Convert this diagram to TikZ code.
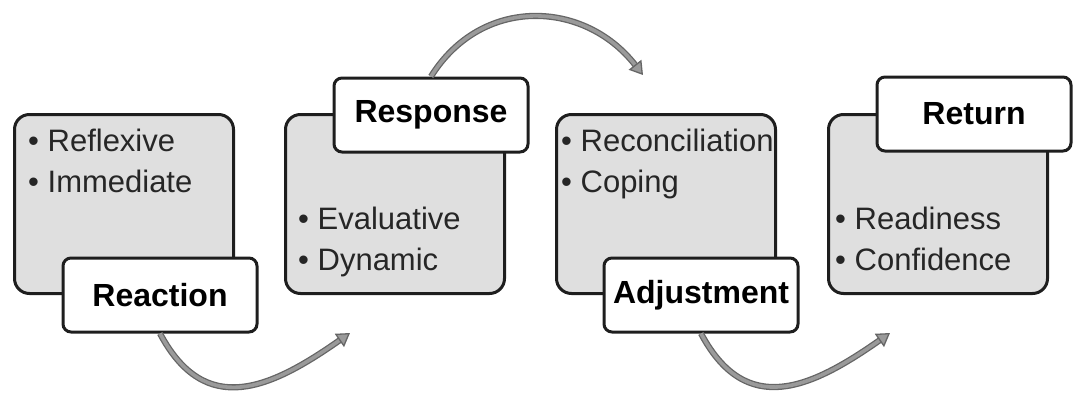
\documentclass[tikz,border=0pt]{standalone}
\usepackage{fontspec}
\setmainfont{Liberation Sans}
\usepackage{tikz}
\usetikzlibrary{positioning,arrows.meta}
\definecolor{panel}{HTML}{DFDFDF}
\definecolor{rim}{HTML}{1E1E1E}
\definecolor{flowfill}{HTML}{9A9A9A}
\definecolor{flowrim}{HTML}{666666}
\tikzset{
  stage/.style={draw=rim, fill=panel, line width=3pt, rounded corners=15pt, minimum width=219pt, minimum height=179pt},
  tag/.style  ={draw=rim, fill=white, line width=3pt, rounded corners=8pt, minimum width=194pt, minimum height=74pt, font=\fontsize{32}{36}\selectfont\bfseries},
  items/.style={anchor=north west, inner sep=0pt, align=left, text=black!85, font=\fontsize{31}{41}\selectfont},
  flow/.style ={draw=flowrim, line width=1.3pt, double=flowfill, double distance=3.6pt, -{Triangle[length=13pt, width=16pt, fill=flowfill]}},
}
\begin{document}
\begin{tikzpicture}[x=1pt, y=1pt]
  \useasboundingbox (0,0) rectangle (1073,392);
  % stages
  \node[stage] (S1) at (124,188) {};
  \node[stage] (S2) at (395,188) {};
  \node[stage] (S3) at (666,188) {};
  \node[stage] (S4) at (938,188) {};
  \node[items] (L1) at (28,263)  {\textbullet\ Reflexive\\\textbullet\ Immediate};
  \node[items] (L2) at (298,185) {\textbullet\ Evaluative\\\textbullet\ Dynamic};
  \node[items] (L3) at (561,263) {\textbullet\ Reconciliation\\\textbullet\ Coping};
  \node[items] (L4) at (835,185) {\textbullet\ Readiness\\\textbullet\ Confidence};
  % titles
  \node[tag] (reac) at (160,97)  {Reaction};
  \node[tag] (resp) at (431,277) {Response};
  \node[tag] (adj)  at (701,97)  {Adjustment};
  \node[tag] (ret)  at (974,278) {Return};
  % arrows
  \coordinate (t1) at (350,59);
  \coordinate (t2) at (643,317);
  \coordinate (t3) at (890,59);
  \draw[flow] (reac.south) to[out=-62, in=-145, looseness=1.3] (t1);
  \draw[flow] (resp.north) to[out=58, in=128, looseness=1.15] (t2);
  \draw[flow] (adj.south) to[out=-62, in=-145, looseness=1.3] (t3);
\end{tikzpicture}
\end{document}
